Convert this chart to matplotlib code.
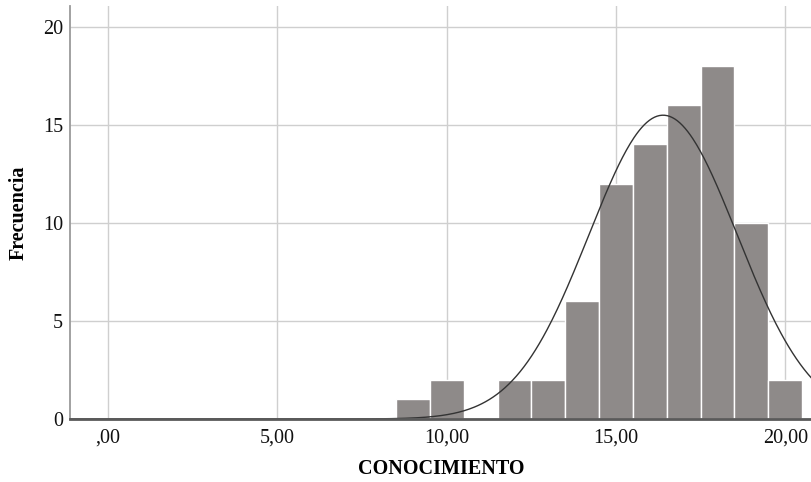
import numpy as np
import matplotlib.pyplot as plt

# histogram data (bin centres and counts)
bins = [9, 10, 11, 12, 13, 14, 15, 16, 17, 18, 19, 20]
counts = [1, 2, 0, 2, 2, 6, 12, 14, 16, 18, 10, 2]

# fitted normal curve parameters
n_total = 85
mean = 16.39
sd = 2.19
bin_width = 1.0

xticks = [0, 5, 10, 15, 20]
xtick_labels = [',00', '5,00', '10,00', '15,00', '20,00']
yticks = [0, 5, 10, 15, 20]

plt.rcParams['font.family'] = ['Liberation Serif', 'DejaVu Serif']

fig = plt.figure(figsize=(8.12, 4.82), dpi=100)
ax = fig.add_axes([0.0862, 0.1307, 0.9138, 0.8569])

ax.set_xlim(-1.13, 20.79)
ax.set_ylim(0, 21.05)

ax.grid(True, color='#cfcfcf', linewidth=1.0)
ax.set_axisbelow(True)

ax.bar(bins, counts, width=bin_width, color='#8e8a89', edgecolor='white', linewidth=1.0, zorder=2)

xs = np.linspace(-1.13, 21.5, 600)
ys = n_total * bin_width / (sd * np.sqrt(2 * np.pi)) * np.exp(-0.5 * ((xs - mean) / sd) ** 2)
ax.plot(xs, ys, color='#333333', linewidth=1.0, zorder=3)

ax.set_xticks(xticks)
ax.set_xticklabels(xtick_labels)
ax.set_yticks(yticks)
ax.tick_params(length=0, labelsize=14.5, colors='#111111')
ax.tick_params(axis='x', pad=7)
ax.tick_params(axis='y', pad=5)

ax.spines['top'].set_visible(False)
ax.spines['right'].set_visible(False)
ax.spines['left'].set_color('#9a9a9a')
ax.spines['left'].set_linewidth(1.3)
ax.spines['bottom'].set_color('#5a5a5a')
ax.spines['bottom'].set_linewidth(2.0)
ax.spines['bottom'].set_zorder(4)

ax.set_xlabel('CONOCIMIENTO', fontsize=14.5, fontweight='bold', labelpad=8)
ax.set_ylabel('Frecuencia', fontsize=14.5, fontweight='bold', labelpad=10)

fig.savefig('out.png', dpi=100)
